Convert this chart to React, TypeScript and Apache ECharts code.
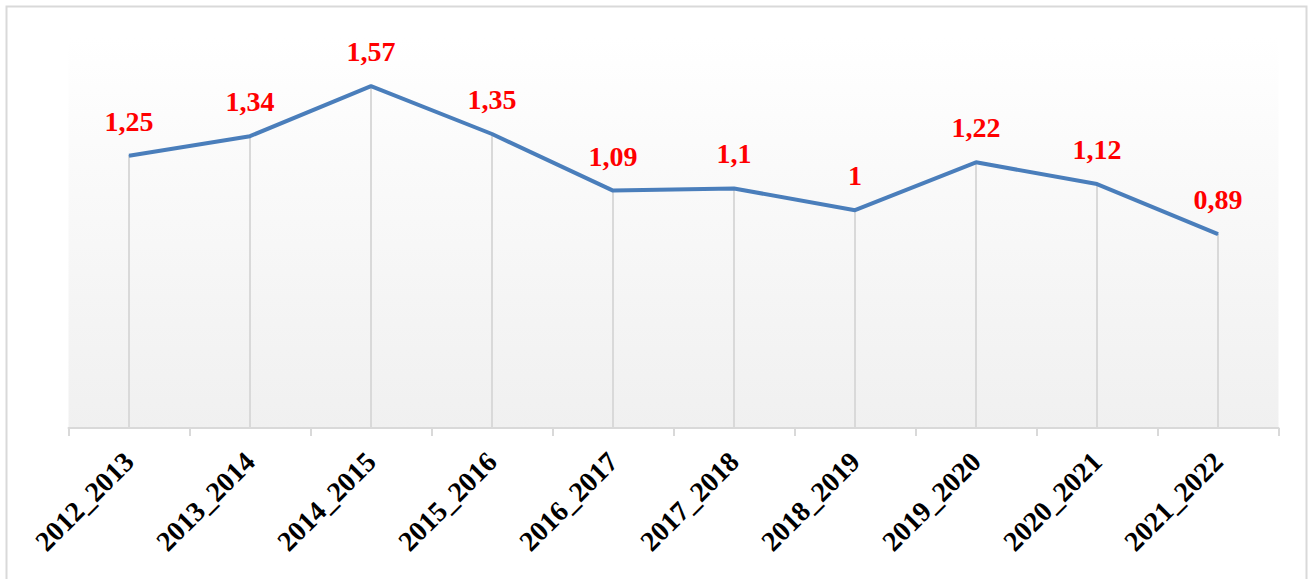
import React, { useEffect, useRef } from "react";
import * as echarts from "echarts";

const categories = [
  "2012_2013", "2013_2014", "2014_2015", "2015_2016", "2016_2017",
  "2017_2018", "2018_2019", "2019_2020", "2020_2021", "2021_2022",
];
const values = [1.25, 1.34, 1.57, 1.35, 1.09, 1.1, 1.0, 1.22, 1.12, 0.89];

const SERIF = "'Liberation Serif', 'Times New Roman', 'DejaVu Serif', serif";

export default function App() {
  const ref = useRef<HTMLDivElement>(null);
  useEffect(() => {
    document.body.style.margin = "0";
    const chart = echarts.init(ref.current!, null, { renderer: "svg" });
    chart.setOption({
      animation: false,
      backgroundColor: "#ffffff",
      graphic: [
        {
          type: "rect",
          shape: { x: 6.5, y: 6.5, width: 1300, height: 580 },
          style: { fill: "none", stroke: "#d9d9d9", lineWidth: 2 },
          silent: true,
        },
      ],
      grid: {
        left: 68.5,
        right: 30.5,
        top: 36,
        bottom: 151,
        show: true,
        borderWidth: 0,
        backgroundColor: new echarts.graphic.LinearGradient(0, 0, 0, 1, [
          { offset: 0, color: "#ffffff" },
          { offset: 1, color: "#f0f0f0" },
        ]),
      },
      xAxis: {
        type: "category",
        data: categories,
        boundaryGap: true,
        axisLine: { lineStyle: { color: "#d9d9d9", width: 2 } },
        axisTick: { show: true, length: 8, lineStyle: { color: "#d9d9d9", width: 2 } },
        axisLabel: {
          rotate: 45,
          interval: 0,
          margin: 29,
          color: "#000000",
          fontFamily: SERIF,
          fontWeight: "bold",
          fontSize: 28,
        },
        splitLine: { show: false },
      },
      yAxis: {
        type: "value",
        min: 0,
        max: 1.8,
        show: false,
        splitLine: { show: false },
      },
      series: [
        {
          type: "bar",
          data: values,
          barWidth: 2,
          silent: true,
          itemStyle: { color: "#d9d9d9" },
          z: 1,
        },
        {
          type: "line",
          data: values,
          symbol: "circle",
          symbolSize: 1,
          itemStyle: { color: "#4a7ebb" },
          lineStyle: { color: "#4a7ebb", width: 4 },
          z: 3,
          label: {
            show: true,
            position: "top",
            distance: 20,
            color: "#ff0000",
            fontFamily: SERIF,
            fontWeight: "bold",
            fontSize: 28,
            formatter: (p: any) => String(p.value).replace(".", ","),
          },
        },
      ],
    });
    return () => chart.dispose();
  }, []);
  return <div ref={ref} style={{ width: 1309, height: 579 }} />;
}
